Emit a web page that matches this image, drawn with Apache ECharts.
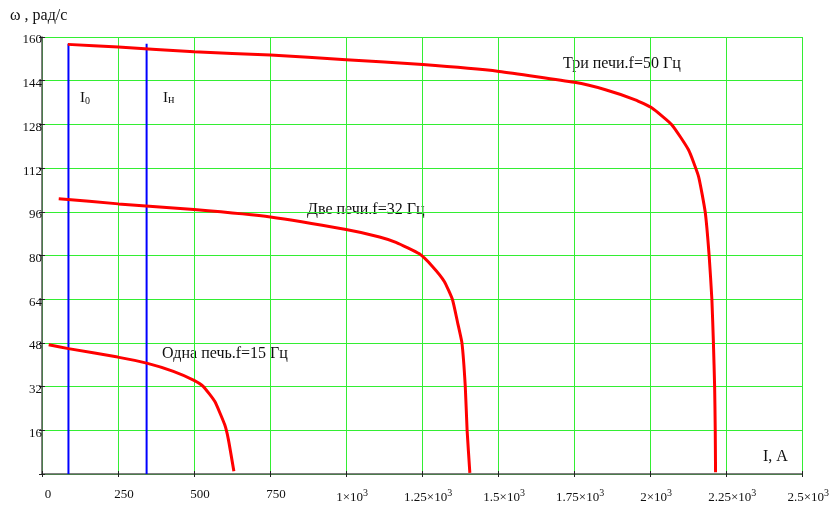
<!DOCTYPE html>
<html>
<head>
<meta charset="utf-8">
<script src="https://cdn.jsdelivr.net/npm/echarts@6/dist/echarts.min.js"></script>
<style>
  html, body { margin: 0; padding: 0; background: #fff; }
  #chart { width: 832px; height: 506px; }
</style>
</head>
<body>
<div id="chart"></div>
<script>
// Mechanical characteristics ω(I) of the drive for one, two and three furnaces
const threeFurnaces = [
  [85, 157.3], [251, 156.3], [500, 154.6], [751, 153.4], [1000, 151.7],
  [1252, 149.9], [1503, 147.4], [1751, 143.4], [1853, 140.7], [1951, 137.0],
  [2006, 134.0], [2071, 127.9], [2126, 118.7], [2159, 109.0], [2181, 95.9],
  [2194, 79.9], [2203, 63.8], [2208, 48.0], [2212, 31.9], [2214, 16.2], [2215, 0.6]
];
const twoFurnaces = [
  [55, 100.8], [251, 98.9], [500, 96.8], [751, 94.1], [1000, 89.5],
  [1110, 86.8], [1164, 84.8], [1241, 80.6], [1284, 76.0], [1323, 70.5],
  [1350, 63.8], [1367, 55.3], [1381, 48.0], [1392, 32.0], [1398, 16.0],
  [1407, 0.4]
];
const oneFurnace = [
  [22, 47.3], [87, 45.9], [249, 42.8], [344, 40.6], [432, 37.6], [500, 34.3],
  [530, 32.1], [568, 26.6], [601, 18.0], [613, 12.6], [631, 1.0]
];
// No-load current I0 and rated current Iн markers
const currentI0 = 87;
const currentIn = 344;
const markerTop = 157.5;

const xTickValues = [0, 250, 500, 750, 1000, 1250, 1500, 1750, 2000, 2250, 2500];
const xTickLabels = ['0', '250', '500', '750', '1×10^3', '1.25×10^3', '1.5×10^3',
  '1.75×10^3', '2×10^3', '2.25×10^3', '2.5×10^3'];
const yTickValues = [16, 32, 48, 64, 80, 96, 112, 128, 144, 160];
const yTickLabels = ['16', '32', '48', '64', '80', '96', '112', '128', '144', '160'];

const curveLabels = [
  { text: 'Три печи.f=50 Гц', x: 563, y: 65 },
  { text: 'Две печи.f=32 Гц', x: 307, y: 211 },
  { text: 'Одна печь.f=15 Гц', x: 162, y: 355 }
];

const FONT = '"Liberation Serif", "Times New Roman", serif';
const GRID_GREEN = '#33ee33';
const AXIS_GRAY = '#555';

function xLabel(value) {
  const i = xTickValues.indexOf(value);
  if (i < 0) return '';
  const s = xTickLabels[i];
  const parts = s.split('^');
  if (parts.length === 1) return '{m|' + s + '}';
  return '{m|' + parts[0] + '}{e|' + parts[1] + '}';
}
function yLabel(value) {
  const i = yTickValues.indexOf(value);
  return i < 0 ? '' : '{v|' + yTickLabels[i] + '}';
}

const chart = echarts.init(document.getElementById('chart'), null, { renderer: 'canvas' });

const redLine = { color: '#ff0000', width: 3 };
const blueLine = { color: '#0000ff', width: 2 };

// Tick marks cross the axis lines: an outer axis carries labels and grid,
// a second copy draws the inner half of each tick.
const xBase = { type: 'value', min: 0, max: 2500, interval: 250, position: 'bottom' };
const yBase = { type: 'value', min: 0, max: 160, interval: 16, position: 'left' };

chart.setOption({
  animation: false,
  backgroundColor: '#fff',
  grid: { left: 42, right: 28, top: 37, bottom: 32, containLabel: false },
  xAxis: [
    Object.assign({}, xBase, {
      axisLine: { show: true, onZero: false, lineStyle: { color: AXIS_GRAY, width: 1.5 } },
      axisTick: { show: true, inside: false, length: 3, lineStyle: { color: '#222' } },
      splitLine: { show: true, lineStyle: { color: GRID_GREEN, width: 1 } },
      axisLabel: {
        margin: 14, color: '#111', fontFamily: FONT, fontSize: 13,
        showMinLabel: true, showMaxLabel: true,
        formatter: xLabel,
        rich: {
          m: { fontFamily: FONT, fontSize: 13, color: '#111', padding: [0, 0, 0, 12] },
          e: { fontFamily: FONT, fontSize: 10, color: '#111', padding: [0, 0, 9, 0] }
        }
      }
    }),
    Object.assign({}, xBase, {
      axisLine: { show: false, onZero: false },
      axisTick: { show: true, inside: true, length: 3, lineStyle: { color: '#222' } },
      splitLine: { show: false },
      axisLabel: { show: false }
    })
  ],
  yAxis: [
    Object.assign({}, yBase, {
      axisLine: { show: true, onZero: false, lineStyle: { color: AXIS_GRAY, width: 1.5 } },
      axisTick: { show: true, inside: false, length: 3, lineStyle: { color: '#222' } },
      splitLine: { show: true, lineStyle: { color: GRID_GREEN, width: 1 } },
      axisLabel: {
        margin: 0, color: '#111', fontFamily: FONT, fontSize: 13,
        formatter: yLabel,
        rich: {
          v: { fontFamily: FONT, fontSize: 13, color: '#111', padding: [6, 0, 0, 0] }
        }
      }
    }),
    Object.assign({}, yBase, {
      axisLine: { show: false, onZero: false },
      axisTick: { show: true, inside: true, length: 3, lineStyle: { color: '#222' } },
      splitLine: { show: false },
      axisLabel: { show: false }
    })
  ],
  series: [
    { type: 'line', data: threeFurnaces, smooth: 0.15, showSymbol: false, lineStyle: redLine, z: 5 },
    { type: 'line', data: twoFurnaces, smooth: 0.15, showSymbol: false, lineStyle: redLine, z: 5 },
    { type: 'line', data: oneFurnace, smooth: 0.15, showSymbol: false, lineStyle: redLine, z: 5 },
    { type: 'line', data: [[currentI0, 0], [currentI0, markerTop]], showSymbol: false, lineStyle: blueLine, z: 4 },
    { type: 'line', data: [[currentIn, 0], [currentIn, markerTop]], showSymbol: false, lineStyle: blueLine, z: 4 }
  ],
  graphic: [
    {
      type: 'text', left: 10, top: 8,
      style: { text: 'ω , рад/с', font: '16px ' + FONT, fill: '#111' }
    },
    {
      type: 'text', left: 763, top: 449,
      style: { text: 'I, A', font: '16px ' + FONT, fill: '#111' }
    },
    {
      type: 'text', left: 80, top: 91,
      style: {
        text: '{i|I}{s|0}',
        rich: {
          i: { font: '15px ' + FONT, fill: '#111' },
          s: { font: '10px ' + FONT, fill: '#111', padding: [5, 0, 0, 0] }
        }
      }
    },
    {
      type: 'text', left: 163, top: 91,
      style: {
        text: '{i|I}{s|н}',
        rich: {
          i: { font: '15px ' + FONT, fill: '#111' },
          s: { font: '12px ' + FONT, fill: '#111', padding: [3, 0, 0, 0] }
        }
      }
    }
  ].concat(curveLabels.map(l => ({
    type: 'text', left: l.x, top: l.y - 9,
    style: { text: l.text, font: '16px ' + FONT, fill: '#111' }
  })))
});
</script>
</body>
</html>
